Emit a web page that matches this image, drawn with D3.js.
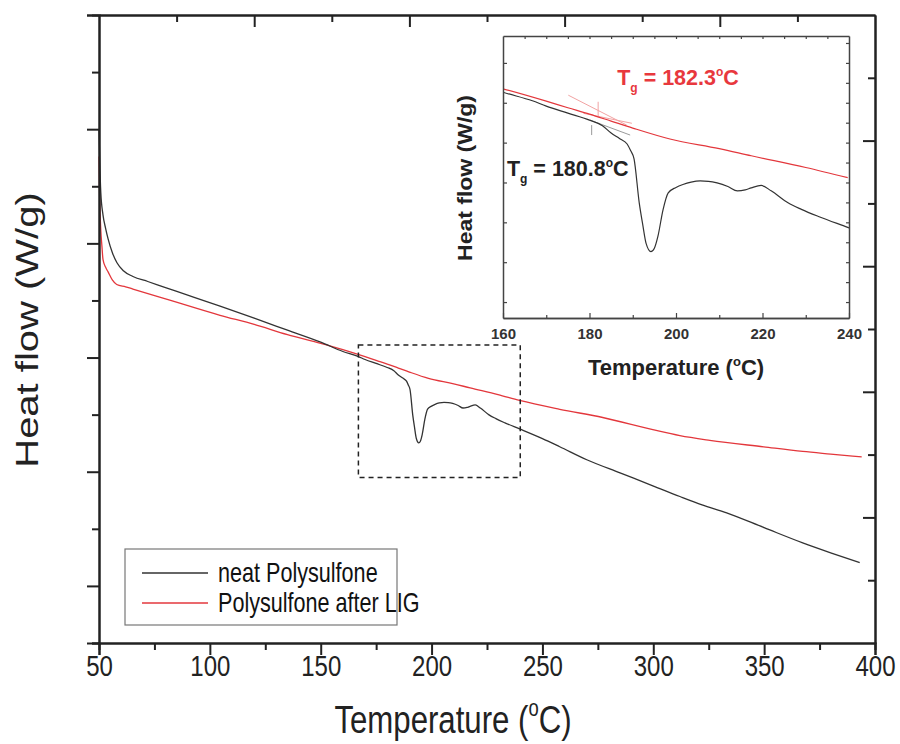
<!DOCTYPE html>
<meta charset="utf-8">
<script src="https://d3js.org/d3.v7.min.js"></script>
<style>
  body { margin: 0; background: #fff; }
  text { font-family: Arial, "Liberation Sans", sans-serif; }
</style>
<div id="my_dataviz"></div>
<script>

// neat Polysulfone (black)
var neatT = [50, 50.3, 50.8, 51.8, 53, 54.1, 56, 58.1, 61, 65.3, 72, 80, 90, 104.6, 120, 135, 150, 160,
  166.8, 170, 175, 180, 183, 185, 187, 188.7, 189.5, 190.3, 191.5, 192.3, 193.1, 194.2, 195, 195.8,
  197, 198.2, 200, 201.6, 203.5, 205.6, 207.5, 209.5, 212, 214.2, 216, 217.4, 219.7, 222, 225.9,
  229, 233.1, 239.7, 250, 257.8, 270, 285, 299.8, 312, 322, 333.1, 350, 367.4, 380, 393.1];
var neatFlow = [4.00, 3.75, 3.45, 3.25, 3.13, 3.04, 2.92, 2.83, 2.76, 2.71, 2.666, 2.613, 2.547, 2.45,
  2.345, 2.24, 2.135, 2.053, 2.01, 1.983, 1.948, 1.913, 1.885, 1.848, 1.82, 1.793, 1.76, 1.718, 1.498,
  1.39, 1.293, 1.253, 1.27, 1.328, 1.463, 1.548, 1.575, 1.59, 1.602, 1.608, 1.606, 1.598, 1.58, 1.558,
  1.563, 1.573, 1.585, 1.558, 1.498, 1.465, 1.428, 1.375, 1.29, 1.219, 1.105, 0.99, 0.877, 0.783,
  0.71, 0.64, 0.51, 0.377, 0.29, 0.204];

// Polysulfone after LIG (red)
var ligT = [50, 50.3, 50.8, 51.3, 51.8, 53, 54.1, 56, 58, 62, 65.3, 80, 104.6, 120, 135, 150, 160, 170,
  175, 180, 185, 190, 198.6, 210, 217.4, 230, 239.7, 257.8, 277.2, 299.8, 312, 325.5, 349.8, 367.4,
  380, 394];
var ligFlow = [3.76, 3.4, 3.12, 2.98, 2.86, 2.79, 2.75, 2.68, 2.64, 2.62, 2.60, 2.514, 2.37, 2.29, 2.20,
  2.125, 2.07, 2.008, 1.975, 1.943, 1.908, 1.873, 1.818, 1.77, 1.734, 1.675, 1.624, 1.547, 1.475,
  1.368, 1.316, 1.275, 1.218, 1.178, 1.155, 1.13];

var seriesNames = ["neat Polysulfone", "Polysulfone after LIG"];
var xTicks = [50, 100, 150, 200, 250, 300, 350, 400];
var insetXTicks = [160, 180, 200, 220, 240];

// Tg construction lines in the inset
var tgRedLines = [[[175.1, 2.038], [188.6, 1.888]], [[178.6, 1.947], [189.8, 1.897]], [[182.0, 2.005], [182.0, 1.93]]];
var tgGrayLines = [[[180.1, 1.913], [189.4, 1.838]], [[180.5, 1.888], [180.5, 1.838]]];
var tgValues = ["182.3", "180.8"];

// zoom window drawn in the main plot
var zoomBox = {t0: 167, t1: 240, f0: 0.95, f1: 2.11};

var neat = neatT.map(function(t, i) { return {t: t, f: neatFlow[i]}; });
var lig = ligT.map(function(t, i) { return {t: t, f: ligFlow[i]}; });

var W = 900, H = 744;
var margin = {top: 15, right: 25, bottom: 101, left: 99},
    width = W - margin.left - margin.right,
    height = H - margin.top - margin.bottom;

var svg = d3.select("#my_dataviz").append("svg")
  .attr("width", W).attr("height", H);

var g = svg.append("g")
  .attr("transform", "translate(" + margin.left + "," + margin.top + ")");

var x = d3.scaleLinear().domain([50, 400]).range([0, width]);
var y = d3.scaleLinear().domain([-0.5, 5]).range([height, 0]);

var black = "#333", red = "#e3373c";
var squeeze = 0.8; // the main figure text is horizontally condensed

// main curves
var line = d3.line()
  .x(function(d) { return x(d.t); })
  .y(function(d) { return y(d.f); })
  .curve(d3.curveMonotoneX);

g.append("path").datum(lig)
  .attr("fill", "none").attr("stroke", red).attr("stroke-width", 1.3).attr("d", line);
g.append("path").datum(neat)
  .attr("fill", "none").attr("stroke", black).attr("stroke-width", 1.3).attr("d", line);

// dashed zoom box
g.append("rect")
  .attr("x", x(zoomBox.t0)).attr("y", y(zoomBox.f1))
  .attr("width", x(zoomBox.t1) - x(zoomBox.t0))
  .attr("height", y(zoomBox.f0) - y(zoomBox.f1))
  .attr("fill", "none").attr("stroke", "#222").attr("stroke-width", 1.5)
  .attr("stroke-dasharray", "5,4");

// axes
function styleAxis(sel, w) {
  sel.select(".domain").attr("stroke", "#222").attr("stroke-width", w || 2);
  sel.selectAll(".tick line").attr("stroke", "#222").attr("stroke-width", 2);
}

var xAxis = g.append("g").attr("transform", "translate(0," + height + ")")
  .call(d3.axisBottom(x).tickValues(xTicks).tickSize(12).tickPadding(0).tickFormat(d3.format("d")));
styleAxis(xAxis);
xAxis.selectAll("text").attr("font-size", 30).attr("fill", "#222")
  .attr("transform", "scale(" + squeeze + ",1)");
var xMinor = g.append("g").attr("transform", "translate(0," + height + ")")
  .call(d3.axisBottom(x).tickValues(xTicks.slice(0, -1).map(function(d) { return d + 25; })).tickSize(7).tickFormat(""));
styleAxis(xMinor);

var yMajor = g.append("g")
  .call(d3.axisLeft(y).tickValues([0, 1, 2, 3, 4, 5]).tickSize(12).tickFormat(""));
styleAxis(yMajor);
var yMinor = g.append("g")
  .call(d3.axisLeft(y).tickValues([-0.5, 0.5, 1.5, 2.5, 3.5, 4.5]).tickSize(7).tickFormat(""));
styleAxis(yMinor);

// top and right frame axes (10 divisions, inward ticks)
var topS = d3.scaleLinear().domain([0, 10]).range([0, width]);
var rightS = d3.scaleLinear().domain([0, 10]).range([0, height]);
var topAx = g.append("g")
  .call(d3.axisTop(topS).tickValues([2, 4, 6, 8]).tickSizeInner(-12).tickSizeOuter(0).tickFormat(""));
styleAxis(topAx);
var topAx2 = g.append("g")
  .call(d3.axisTop(topS).tickValues([1, 3, 5, 7, 9]).tickSizeInner(-7).tickSizeOuter(0).tickFormat(""));
styleAxis(topAx2);
var rAx = g.append("g").attr("transform", "translate(" + width + ",0)")
  .call(d3.axisRight(rightS).tickValues([2, 4, 6, 8]).tickSizeInner(-12).tickSizeOuter(0).tickFormat(""));
styleAxis(rAx);
var rAx2 = g.append("g").attr("transform", "translate(" + width + ",0)")
  .call(d3.axisRight(rightS).tickValues([1, 3, 5, 7, 9]).tickSizeInner(-7).tickSizeOuter(0).tickFormat(""));
styleAxis(rAx2);

// axis titles
var xt = svg.append("text")
  .attr("transform", "translate(453,733) scale(" + squeeze + ",1)")
  .attr("text-anchor", "middle").attr("font-size", 39).attr("fill", "#222");
xt.append("tspan").text("Temperature (");
xt.append("tspan").attr("font-size", 23).attr("dy", -17).text("o");
xt.append("tspan").attr("dy", 17).text("C)");

svg.append("text")
  .attr("transform", "translate(38,330) rotate(-90) scale(1,0.78)")
  .attr("text-anchor", "middle").attr("font-size", 40).attr("fill", "#222")
  .text("Heat flow (W/g)");

// legend
var leg = svg.append("g");
leg.append("rect").attr("x", 125).attr("y", 549).attr("width", 272).attr("height", 76)
  .attr("fill", "#fff").attr("stroke", "#777").attr("stroke-width", 1.2);
[black, red].forEach(function(c, i) {
  var ly = 573 + i * 30;
  leg.append("line").attr("x1", 142).attr("x2", 208).attr("y1", ly).attr("y2", ly)
    .attr("stroke", c).attr("stroke-width", 1.3);
  leg.append("text").attr("transform", "translate(218," + (ly + 9) + ") scale(" + squeeze + ",1)")
    .attr("font-size", 27).attr("fill", "#111")
    .text(seriesNames[i]);
});

// ---- inset ----
var ins = {x: 503, y: 36, w: 346, h: 282};
var ix = d3.scaleLinear().domain([160, 240]).range([0, ins.w]);
var iy = d3.scaleLinear().domain([0.92, 2.335]).range([ins.h, 0]);

var ig = svg.append("g").attr("transform", "translate(" + ins.x + "," + ins.y + ")");
ig.append("rect").attr("width", ins.w).attr("height", ins.h).attr("fill", "#fff");

svg.append("clipPath").attr("id", "insclip")
  .append("rect").attr("width", ins.w).attr("height", ins.h);

var iline = d3.line()
  .x(function(d) { return ix(d.t); })
  .y(function(d) { return iy(d.f); })
  .curve(d3.curveMonotoneX);

var curves = ig.append("g").attr("clip-path", "url(#insclip)");
function inRange(arr) { return arr.filter(function(d) { return d.t >= 150 && d.t <= 250; }); }

tgRedLines.forEach(function(s) {
  curves.append("line").attr("x1", ix(s[0][0])).attr("y1", iy(s[0][1]))
    .attr("x2", ix(s[1][0])).attr("y2", iy(s[1][1]))
    .attr("stroke", "#f2a3a3").attr("stroke-width", 1);
});
tgGrayLines.forEach(function(s) {
  curves.append("line").attr("x1", ix(s[0][0])).attr("y1", iy(s[0][1]))
    .attr("x2", ix(s[1][0])).attr("y2", iy(s[1][1]))
    .attr("stroke", "#9a9a9a").attr("stroke-width", 1);
});
curves.append("path").datum(inRange(lig))
  .attr("fill", "none").attr("stroke", red).attr("stroke-width", 1.2).attr("d", iline);
curves.append("path").datum(inRange(neat))
  .attr("fill", "none").attr("stroke", black).attr("stroke-width", 1.2).attr("d", iline);

function styleIns(sel) {
  sel.select(".domain").attr("stroke", "#444").attr("stroke-width", 1.5);
  sel.selectAll(".tick line").attr("stroke", "#444").attr("stroke-width", 1.2);
}
var ixAx = ig.append("g").attr("transform", "translate(0," + ins.h + ")")
  .call(d3.axisBottom(ix).tickValues(insetXTicks).tickSizeInner(-5).tickSizeOuter(0).tickPadding(10));
styleIns(ixAx);
ixAx.selectAll("text").attr("font-size", 15).attr("font-weight", "bold").attr("fill", "#333");
styleIns(ig.append("g").attr("transform", "translate(0," + ins.h + ")")
  .call(d3.axisBottom(ix).tickValues([170, 190, 210, 230]).tickSizeInner(-3).tickSizeOuter(0).tickFormat("")));
styleIns(ig.append("g")
  .call(d3.axisTop(ix).tickValues(d3.range(165, 240, 5)).tickSizeInner(-3).tickSizeOuter(0).tickFormat("")));
styleIns(ig.append("g")
  .call(d3.axisLeft(iy).tickValues([1.0, 1.2, 1.4, 1.6, 1.8, 2.0, 2.2]).tickSizeInner(-4).tickSizeOuter(0).tickFormat("")));
styleIns(ig.append("g").attr("transform", "translate(" + ins.w + ",0)")
  .call(d3.axisRight(iy).tickValues(d3.range(1.0, 2.31, 0.1)).tickSizeInner(-3).tickSizeOuter(0).tickFormat("")));

// inset titles
var ixt = ig.append("text").attr("x", 173).attr("y", 339)
  .attr("text-anchor", "middle").attr("font-size", 22).attr("font-weight", "bold").attr("fill", "#222");
ixt.append("tspan").text("Temperature (");
ixt.append("tspan").attr("font-size", 13).attr("dy", -9).text("o");
ixt.append("tspan").attr("dy", 9).text("C)");

ig.append("text").attr("transform", "translate(-31," + (ins.h / 2 + 1) + ") rotate(-90) scale(1,0.85)")
  .attr("text-anchor", "middle").attr("font-size", 23).attr("font-weight", "bold").attr("fill", "#222")
  .text("Heat flow (W/g)");

// Tg labels
function tgLabel(tx, ty, val, col) {
  var t = ig.append("text").attr("x", ix(tx)).attr("y", iy(ty))
    .attr("font-size", 21.5).attr("font-weight", "bold").attr("fill", col);
  t.append("tspan").text("T");
  t.append("tspan").attr("font-size", 12).attr("dy", 7).text("g");
  t.append("tspan").attr("dy", -7).text(" = " + val);
  t.append("tspan").attr("font-size", 12).attr("dy", -9).text("o");
  t.append("tspan").attr("dy", 9).text("C");
}
tgLabel(186.4, 2.09, tgValues[0], "#e8383d");
tgLabel(160.9, 1.633, tgValues[1], "#222");

</script>
